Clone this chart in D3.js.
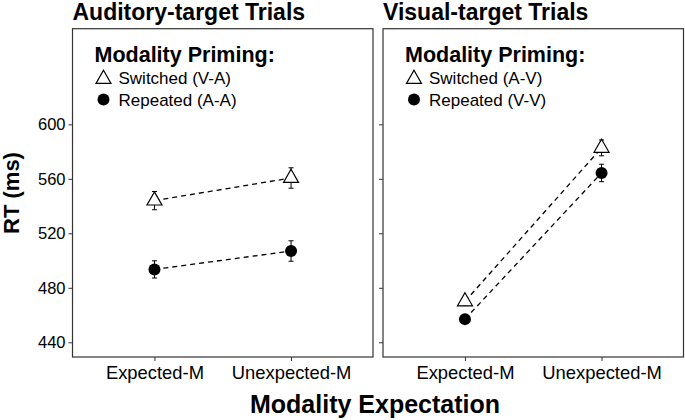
<!DOCTYPE html>
<html>
<head>
<meta charset="utf-8">
<script src="https://cdn.jsdelivr.net/npm/d3@7"></script>
<style>
  body { margin: 0; background: #fff; }
  text { font-family: "Liberation Sans", Arial, sans-serif; fill: #000; }
</style>
</head>
<body>
<div class="canvas"></div>
<script>
// data
const conditions = ['Expected-M', 'Unexpected-M'];
const panelTitles = ['Auditory-target Trials', 'Visual-target Trials'];
const switchedLabels = ['Switched (V-A)', 'Switched (A-V)'];
const repeatedLabels = ['Repeated (A-A)', 'Repeated (V-V)'];
const switchedRT = [[544, 560.6], [470, 582.7]];
const switchedSE = [[6.7, 7.5], [3, 5.8]];
const repeatedRT = [[493.5, 507], [457, 564.3]];
const repeatedSE = [[6.3, 7.5], [3, 6.4]];
const yTicks = [440, 480, 520, 560, 600];

const svg = d3.select('.canvas')
    .append('svg')
    .attr('width', 685)
    .attr('height', 420);

// panel geometry
const panelLeft = [72.5, 383];
const panelW = 300.5;
const panelTop = 28.7, panelBottom = 357;

const y = d3.scaleLinear()
    .domain([429.2, 670.2])
    .range([panelBottom, panelTop]);

const tri = 'M0,-8.7L7.5,4.4L-7.5,4.4Z';

panelTitles.forEach((title, p) => {
    const x = d3.scalePoint()
        .domain(conditions)
        .range([0, panelW])
        .padding(0.6);

    const g = svg.append('g')
        .attr('transform', `translate(${panelLeft[p]},0)`);

    g.append('rect')
        .attr('x', 0).attr('y', panelTop)
        .attr('width', panelW).attr('height', panelBottom - panelTop)
        .attr('fill', 'none')
        .attr('stroke', '#333')
        .attr('stroke-width', 1.2);

    // title
    g.append('text')
        .attr('x', 0).attr('y', 19.5)
        .attr('font-size', 23)
        .attr('font-weight', 'bold')
        .text(title);

    // axes
    const yAxis = d3.axisLeft(y).tickValues(yTicks).tickSize(4).tickPadding(3)
        .tickFormat(d => p === 0 ? d : '');
    const yg = g.append('g').call(yAxis);
    yg.select('.domain').remove();
    yg.selectAll('line').attr('stroke', '#333');
    yg.selectAll('text').attr('font-size', 16.5).attr('font-family', '"Liberation Sans", Arial, sans-serif').attr('fill', '#111');

    const xAxis = d3.axisBottom(x).tickSize(4).tickPadding(5);
    const xg = g.append('g').attr('transform', `translate(0,${panelBottom})`).call(xAxis);
    xg.select('.domain').remove();
    xg.selectAll('line').attr('stroke', '#333');
    xg.selectAll('text').attr('font-size', 18.4).attr('font-family', '"Liberation Sans", Arial, sans-serif').attr('fill', '#111');

    const series = [
        { rt: switchedRT[p], se: switchedSE[p], shape: 'tri' },
        { rt: repeatedRT[p], se: repeatedSE[p], shape: 'dot' }
    ];

    series.forEach(s => {
        const pts = conditions.map((c, i) => ({ c, v: s.rt[i], e: s.se[i] }));

        g.append('path')
            .datum(pts)
            .attr('d', d3.line().x(d => x(d.c)).y(d => y(d.v)))
            .attr('fill', 'none')
            .attr('stroke', '#000')
            .attr('stroke-width', 1.3)
            .attr('stroke-dasharray', '5,4');

        // error bars
        const eb = g.selectAll(null).data(pts).enter().append('g');
        eb.append('line')
            .attr('x1', d => x(d.c)).attr('x2', d => x(d.c))
            .attr('y1', d => y(d.v - d.e)).attr('y2', d => y(d.v + d.e))
            .attr('stroke', '#000').attr('stroke-width', 1);
        [-1, 1].forEach(sgn => {
            eb.append('line')
                .attr('x1', d => x(d.c) - 2.5).attr('x2', d => x(d.c) + 2.5)
                .attr('y1', d => y(d.v + sgn * d.e)).attr('y2', d => y(d.v + sgn * d.e))
                .attr('stroke', '#000').attr('stroke-width', 1);
        });

        if (s.shape === 'tri') {
            g.selectAll(null).data(pts).enter().append('path')
                .attr('d', tri)
                .attr('transform', d => `translate(${x(d.c)},${y(d.v)})`)
                .attr('fill', '#fff').attr('stroke', '#000').attr('stroke-width', 1.2);
        } else {
            g.selectAll(null).data(pts).enter().append('circle')
                .attr('cx', d => x(d.c)).attr('cy', d => y(d.v))
                .attr('r', 6).attr('fill', '#000');
        }
    });

    // legend
    const lg = g.append('g').attr('transform', 'translate(22,0)');
    lg.append('text')
        .attr('x', 0).attr('y', 62)
        .attr('font-size', 21.5).attr('font-weight', 'bold')
        .text('Modality Priming:');
    lg.append('path').attr('d', tri)
        .attr('transform', 'translate(9,79)')
        .attr('fill', '#fff').attr('stroke', '#000').attr('stroke-width', 1.2);
    lg.append('text').attr('x', 24).attr('y', 83.5).attr('font-size', 17).text(switchedLabels[p]);
    lg.append('circle').attr('cx', 9).attr('cy', 99.5).attr('r', 6).attr('fill', '#000');
    lg.append('text').attr('x', 24).attr('y', 105.5).attr('font-size', 17).text(repeatedLabels[p]);
});

svg.append('text')
    .attr('transform', 'translate(19,193) rotate(-90)')
    .attr('text-anchor', 'middle')
    .attr('font-size', 22).attr('font-weight', 'bold')
    .text('RT (ms)');

svg.append('text')
    .attr('x', 375).attr('y', 413)
    .attr('text-anchor', 'middle')
    .attr('font-size', 25).attr('font-weight', 'bold')
    .text('Modality Expectation');
</script>
</body>
</html>
